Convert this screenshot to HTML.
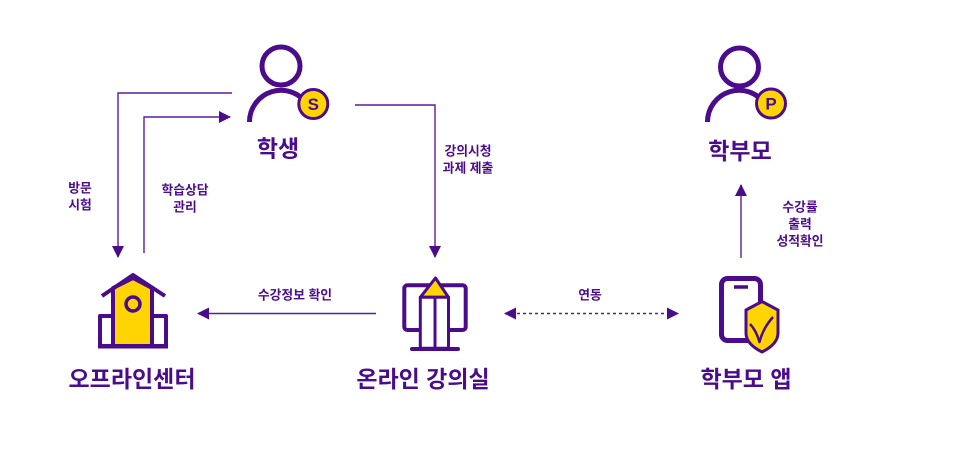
<!DOCTYPE html>
<html><head><meta charset="utf-8"><style>
html,body{margin:0;padding:0;background:#fff;}
svg{display:block;}
text{font-family:"Liberation Sans","Noto Sans CJK KR",sans-serif;fill:#4b0c8c;font-weight:700;}
.big{font-size:23px;}
.sm{font-size:12.8px;}
</style></head><body>
<svg width="954" height="452" viewBox="0 0 954 452" xmlns="http://www.w3.org/2000/svg">
<defs>
<marker id="ah" viewBox="0 0 12 12" refX="11" refY="6" markerWidth="12" markerHeight="12" markerUnits="userSpaceOnUse" orient="auto-start-reverse">
<path d="M0,0 L12,6 L0,12 Z" fill="#4b0c8c"/>
</marker>
</defs>

<!-- Connectors -->
<g fill="none" stroke="#5e1b9e" stroke-width="1.4">
<path d="M232,93 H118 V257" marker-end="url(#ah)"/>
<path d="M144,253 V117 H230" marker-end="url(#ah)"/>
<path d="M355,105 H435 V257" marker-end="url(#ah)"/>
<path d="M376,313.5 H198" marker-end="url(#ah)"/>
<path d="M741,258 V185" marker-end="url(#ah)"/>
<path d="M505,313.5 H678" stroke-dasharray="3,3" marker-start="url(#ah)" marker-end="url(#ah)"/>
</g>

<!-- Student icon -->
<g fill="none" stroke="#4b0c8c" stroke-width="5">
<circle cx="281" cy="66" r="19"/>
<path d="M249.5,122 A31.5,31.5 0 0 1 307,104"/>
</g>
<circle cx="313.3" cy="104" r="14.5" fill="#ffd400" stroke="#4b0c8c" stroke-width="3"/>
<text x="313.3" y="104.5" text-anchor="middle" dominant-baseline="central" style="font-size:17px">S</text>
<text class="big" x="278" y="148.5" text-anchor="middle" dominant-baseline="central">학생</text>

<!-- Parent icon -->
<g fill="none" stroke="#4b0c8c" stroke-width="5">
<circle cx="739.5" cy="67" r="19"/>
<path d="M707.5,122 A31.5,31.5 0 0 1 765,104"/>
</g>
<circle cx="771" cy="103.5" r="14.5" fill="#ffd400" stroke="#4b0c8c" stroke-width="3"/>
<text x="771" y="104" text-anchor="middle" dominant-baseline="central" style="font-size:17px">P</text>
<text class="big" x="740" y="151" text-anchor="middle" dominant-baseline="central">학부모</text>

<!-- Offline center icon -->
<g stroke="#4b0c8c" stroke-width="4" stroke-linejoin="round">
<path d="M100,316 h13 v30 h-13 z" fill="#fff"/>
<path d="M152,316 h14 v30 h-14 z" fill="#fff"/>
<path d="M113,346 V288 L133,278 L152,288 V346 Z" fill="#ffd400"/>
<path d="M102,296 L133,275 L165,296" fill="none"/>
<line x1="98" y1="346.5" x2="168" y2="346.5"/>
<circle cx="133" cy="304" r="7" fill="#ffd400" stroke-width="3.5"/>
</g>
<text class="big" x="132" y="379" text-anchor="middle" dominant-baseline="central">오프라인센터</text>

<!-- Online classroom icon -->
<g stroke="#4b0c8c" stroke-linejoin="round">
<rect x="404.3" y="285.3" width="61.4" height="44.7" rx="3" fill="none" stroke-width="4"/>
<path d="M420.3,297.3 L435.5,278 L448.5,297.3 Z" fill="#ffd400" stroke-width="3"/>
<rect x="420.3" y="297.3" width="28.2" height="51" fill="#fff" stroke-width="3"/>
<line x1="435" y1="297.3" x2="435" y2="348" stroke-width="3"/>
<line x1="412" y1="349" x2="458" y2="349" stroke-width="4" stroke-linecap="round"/>
</g>
<text class="big" x="423" y="379" text-anchor="middle" dominant-baseline="central">온라인 강의실</text>

<!-- Parent app icon -->
<g stroke="#4b0c8c">
<rect x="721.5" y="278.5" width="39" height="62" rx="6" fill="none" stroke-width="5"/>
<line x1="734" y1="287" x2="748" y2="287" stroke-width="3.5"/>
<path d="M746,310 L762,301.5 L778,310 V333 Q778,344 762,352 Q746,344 746,333 Z" fill="#ffd400" stroke-width="3"/>
<path d="M750,324 Q756,330 759.5,342 Q763,328 773,317" fill="none" stroke-width="2.5" stroke-linejoin="round"/>
</g>
<text class="big" x="746" y="379" text-anchor="middle" dominant-baseline="central">학부모 앱</text>

<!-- Small labels -->
<text class="sm" x="80" y="188" text-anchor="middle" dominant-baseline="central">방문</text>
<text class="sm" x="80" y="205" text-anchor="middle" dominant-baseline="central">시험</text>
<text class="sm" x="185" y="190" text-anchor="middle" dominant-baseline="central">학습상담</text>
<text class="sm" x="185" y="207" text-anchor="middle" dominant-baseline="central">관리</text>
<text class="sm" x="468" y="151" text-anchor="middle" dominant-baseline="central">강의시청</text>
<text class="sm" x="468" y="168" text-anchor="middle" dominant-baseline="central">과제 제출</text>
<text class="sm" x="295" y="295" text-anchor="middle" dominant-baseline="central">수강정보 확인</text>
<text class="sm" x="590" y="295" text-anchor="middle" dominant-baseline="central">연동</text>
<text class="sm" x="800" y="207" text-anchor="middle" dominant-baseline="central">수강률</text>
<text class="sm" x="800" y="224" text-anchor="middle" dominant-baseline="central">출력</text>
<text class="sm" x="800" y="241" text-anchor="middle" dominant-baseline="central">성적확인</text>
</svg>
</body></html>
